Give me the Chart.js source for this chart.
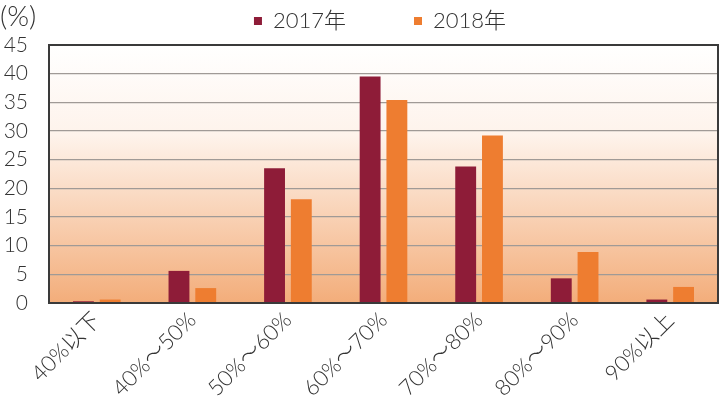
<!DOCTYPE html>
<html>
<head>
<meta charset="utf-8">
<script src="https://cdn.jsdelivr.net/npm/chart.js@4/dist/chart.umd.min.js"></script>
<style>
  html,body{margin:0;padding:0;background:#fff;}
  #wrap{position:relative;width:720px;height:404px;}
  #unit{position:absolute;left:0;top:-2px;font:300 28px Lato,'Noto Sans CJK SC',sans-serif;color:#333;}
</style>
</head>
<body>
<div id="wrap">
  <canvas id="c" width="720" height="404"></canvas>
  <div id="unit">(%)</div>
</div>
<script>
const categories = ['40%以下','40%～50%','50%～60%','60%～70%','70%～80%','80%～90%','90%以上'];
const series2017 = [0.3, 5.6, 23.5, 39.5, 23.8, 4.3, 0.6];
const series2018 = [0.6, 2.6, 18.1, 35.4, 29.2, 8.9, 2.8];
const seriesNames = ['2017年','2018年'];
const yTicks = [0,5,10,15,20,25,30,35,40,45];

const FONT = "Lato, 'Noto Sans CJK SC', sans-serif";
const LEGEND_GAP = 68;

const bgPlugin = {
  id:'bg',
  beforeDraw(chart){
    const {ctx, chartArea:a} = chart;
    const g = ctx.createLinearGradient(0, a.top, 0, a.bottom);
    g.addColorStop(0, '#ffffff');
    g.addColorStop(0.35, '#fef3eb');
    g.addColorStop(1, '#f3ad7a');
    ctx.save();
    ctx.fillStyle = g;
    ctx.fillRect(a.left, a.top, a.right-a.left, a.bottom-a.top);
    ctx.restore();
  },
  afterDatasetsDraw(chart){
    const {ctx, chartArea:a} = chart;
    ctx.save();
    ctx.strokeStyle = '#3a3a3a';
    ctx.lineWidth = 2;
    ctx.strokeRect(a.left, a.top, a.right-a.left, a.bottom-a.top);
    ctx.restore();
  }
};

const legendFix = {
  id:'legendFix',
  beforeInit(chart){
    const orig = chart.legend.fit;
    chart.legend.fit = function(){ orig.call(this); this.height = 45; };
  },
  afterLayout(chart){
    chart.legend.left = 42;
    chart.legend.top = 10 - LEGEND_GAP;
  }
};

new Chart(document.getElementById('c'), {
  type:'bar',
  data:{
    labels: categories,
    datasets:[
      {label: seriesNames[0], data: series2017, backgroundColor:'#8e1c38', categoryPercentage:0.56, barPercentage:0.78},
      {label: seriesNames[1], data: series2018, backgroundColor:'#ee7d30', categoryPercentage:0.56, barPercentage:0.78}
    ]
  },
  plugins:[bgPlugin, legendFix],
  options:{
    responsive:false,
    animation:false,
    layout:{padding:{left:0,right:2,top:0,bottom:0}},
    plugins:{
      legend:{
        position:'top',
        labels:{
          boxWidth:8, boxHeight:8, padding:LEGEND_GAP,
          color:'#333',
          font:{family:FONT, size:22, weight:'300'}
        }
      },
      tooltip:{enabled:false}
    },
    scales:{
      x:{
        grid:{display:false, drawTicks:false},
        border:{display:false},
        ticks:{
          color:'#333', font:{family:FONT, size:22, weight:'300'},
          minRotation:45, maxRotation:45, padding:4
        },
        afterFit(s){ s.height = 101; }
      },
      y:{
        min:0, max:45,
        afterBuildTicks(s){ s.ticks = yTicks.map(v=>({value:v})); },
        grid:{color:'#a09a96', lineWidth:1.3, drawTicks:false},
        border:{display:false},
        ticks:{color:'#333', font:{family:FONT, size:21, weight:'300'}, padding:21},
        afterFit(s){ s.width = 49; }
      }
    }
  }
});
</script>
</body>
</html>
